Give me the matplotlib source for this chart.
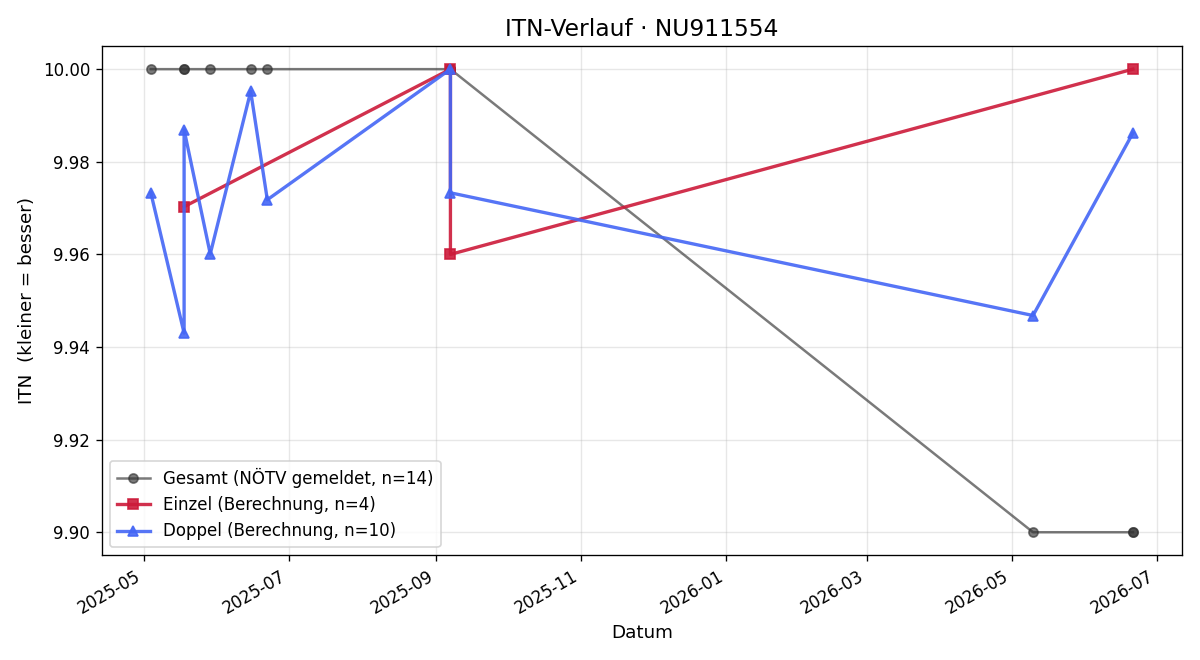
import matplotlib
matplotlib.use("Agg")
import matplotlib.pyplot as plt
import matplotlib.dates as mdates
import pandas as pd
from matplotlib.ticker import FormatStrFormatter

# Gesamt (NÖTV gemeldet)
gesamt_dates = ["2025-05-04", "2025-05-18", "2025-05-18", "2025-05-29", "2025-06-15",
                "2025-06-22", "2025-09-07", "2025-09-07", "2025-09-07", "2025-09-07",
                "2025-09-07", "2026-05-10", "2026-06-21", "2026-06-21"]
gesamt_itn = [10.00, 10.00, 10.00, 10.00, 10.00,
              10.00, 10.00, 10.00, 10.00, 10.00,
              10.00, 9.90, 9.90, 9.90]

# Einzel (Berechnung)
einzel_dates = ["2025-05-18", "2025-09-07", "2025-09-07", "2026-06-21"]
einzel_itn = [9.9703, 10.00, 9.960, 10.00]

# Doppel (Berechnung)
doppel_dates = ["2025-05-04", "2025-05-18", "2025-05-18", "2025-05-29", "2025-06-15",
                "2025-06-22", "2025-09-07", "2025-09-07", "2026-05-10", "2026-06-21"]
doppel_itn = [9.9733, 9.943, 9.9869, 9.9601, 9.9952,
              9.9718, 10.00, 9.9733, 9.9468, 9.9862]


def main():
    fig, ax = plt.subplots(figsize = (10, 5.5), dpi = 120)

    ax.plot(pd.to_datetime(gesamt_dates), gesamt_itn, marker = "o", markersize = 5.5,
            color = "#333333", alpha = 0.65, linewidth = 1.5,
            label = f"Gesamt (NÖTV gemeldet, n={len(gesamt_itn)})")
    ax.plot(pd.to_datetime(einzel_dates), einzel_itn, marker = "s", markersize = 6,
            color = "#cc1a3a", alpha = 0.9, linewidth = 2,
            label = f"Einzel (Berechnung, n={len(einzel_itn)})")
    ax.plot(pd.to_datetime(doppel_dates), doppel_itn, marker = "^", markersize = 6,
            color = "#4466f5", alpha = 0.9, linewidth = 2,
            label = f"Doppel (Berechnung, n={len(doppel_itn)})")

    ax.set_title("ITN-Verlauf · NU911554", fontsize = 14)
    ax.set_xlabel("Datum", fontsize = 11)
    ax.set_ylabel("ITN  (kleiner = besser)", fontsize = 11)
    ax.yaxis.set_major_formatter(FormatStrFormatter("%.2f"))
    ax.xaxis.set_major_locator(mdates.MonthLocator(bymonth = [1, 3, 5, 7, 9, 11]))
    ax.xaxis.set_major_formatter(mdates.DateFormatter("%Y-%m"))
    ax.grid(True, alpha = 0.3)
    ax.legend(loc = "lower left")
    fig.autofmt_xdate()

    fig.tight_layout()
    plt.savefig("out.png", dpi = 120)
    plt.close()


if __name__ == "__main__":
    main()
